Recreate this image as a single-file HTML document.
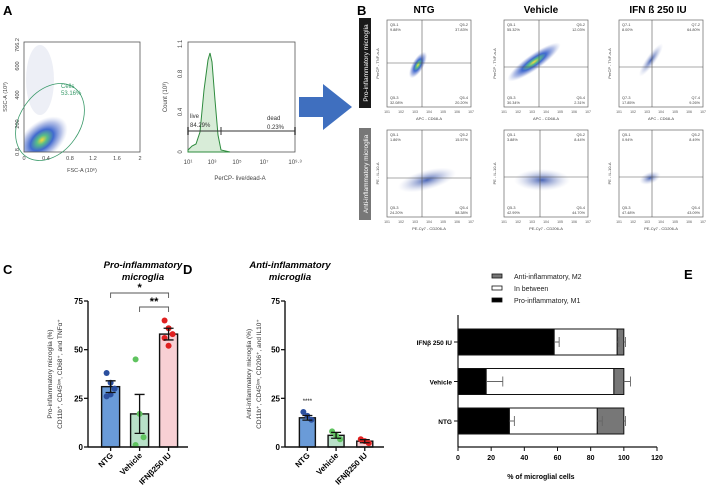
<!DOCTYPE html>
<html><head><meta charset="utf-8"><style>
body{margin:0;background:#fff;font-family:"Liberation Sans",sans-serif}
svg{display:block}
</style></head><body>
<svg width="708" height="495" viewBox="0 0 708 495" xmlns="http://www.w3.org/2000/svg" font-family="Liberation Sans, sans-serif">
<defs>
<radialGradient id="dens" cx="50%" cy="50%" r="50%">
<stop offset="0" stop-color="#f5d21a"/><stop offset="0.2" stop-color="#3bb273"/><stop offset="0.45" stop-color="#1f4fc7"/><stop offset="0.75" stop-color="#5570c8" stop-opacity="0.5"/><stop offset="1" stop-color="#9aa8d8" stop-opacity="0"/>
</radialGradient>
<radialGradient id="dens2" cx="50%" cy="50%" r="50%">
<stop offset="0" stop-color="#2a4aa8"/><stop offset="0.5" stop-color="#6b7fc0" stop-opacity="0.5"/><stop offset="1" stop-color="#b8c0e0" stop-opacity="0"/>
</radialGradient>
<clipPath id="clipA"><rect x="24" y="42" width="116" height="110"/></clipPath>
</defs>

<!-- Panel A -->
<text x="3" y="15" font-size="13" font-weight="bold">A</text>
<g>
<g clip-path="url(#clipA)">
<ellipse cx="40" cy="80" rx="14" ry="35" fill="#c5cbe0" opacity="0.3"/>
<ellipse cx="42" cy="140" rx="30" ry="18" fill="url(#dens)" opacity="0.85" transform="rotate(-40 42 140)"/>
</g>
<rect x="24" y="42" width="116" height="110" fill="none" stroke="#555" stroke-width="0.8"/>
<ellipse cx="50" cy="122" rx="30" ry="42" fill="none" stroke="#3a9a6a" stroke-width="0.8" transform="rotate(35 50 122)"/>
<text x="61" y="88" font-size="6" fill="#3a9a6a">Cells</text>
<text x="61" y="95" font-size="6" fill="#3a9a6a">53.16%</text>
<g font-size="5.5" fill="#444" text-anchor="middle">
<text x="24" y="160">0</text><text x="46" y="160">0.4</text><text x="70" y="160">0.8</text><text x="93" y="160">1.2</text><text x="117" y="160">1.6</text><text x="140" y="160">2</text>
<text x="82" y="172">FSC-A (10⁶)</text>
</g>
<g font-size="5.5" fill="#444" text-anchor="middle">
<text transform="translate(19,152) rotate(-90)">0.8</text>
<text transform="translate(19,124) rotate(-90)">200</text>
<text transform="translate(19,95) rotate(-90)">400</text>
<text transform="translate(19,66) rotate(-90)">600</text>
<text transform="translate(19,45) rotate(-90)">766.2</text>
<text transform="translate(7,97) rotate(-90)">SSC-A (10³)</text>
</g>
</g>

<g>
<rect x="188" y="42" width="107" height="110" fill="none" stroke="#555" stroke-width="0.8"/>
<path d="M188,150 L192,146 L196,144 L200,132 L204,90 L208,60 L210,53 L212,62 L215,100 L218,135 L221,150 L230,152 L188,152Z" fill="#d8ecd8" stroke="#2e8b3e" stroke-width="1"/>
<line x1="188" y1="131" x2="295" y2="131" stroke="#333" stroke-width="1"/>
<line x1="188" y1="127" x2="188" y2="135" stroke="#333" stroke-width="1.4"/>
<line x1="221" y1="127" x2="221" y2="135" stroke="#333" stroke-width="1"/>
<line x1="295" y1="127" x2="295" y2="135" stroke="#333" stroke-width="1.4"/>
<text x="190" y="118" font-size="6" fill="#333">live</text>
<text x="190" y="127" font-size="6" fill="#333">84.29%</text>
<text x="267" y="120" font-size="6" fill="#333">dead</text>
<text x="267" y="129" font-size="6" fill="#333">0.23%</text>
<g font-size="6" fill="#444" text-anchor="middle">
<text x="188" y="164">10¹</text><text x="212" y="164">10³</text><text x="237" y="164">10⁵</text><text x="264" y="164">10⁷</text><text x="295" y="164">10⁹·³</text>
<text x="240" y="180">PerCP- live/dead-A</text>
</g>
<g font-size="6" fill="#444" text-anchor="middle">
<text transform="translate(182,152) rotate(-90)">0</text>
<text transform="translate(182,112) rotate(-90)">0.4</text>
<text transform="translate(182,74) rotate(-90)">0.8</text>
<text transform="translate(182,44) rotate(-90)">1.1</text>
<text transform="translate(167,97) rotate(-90)">Count (10³)</text>
</g>
</g>
<path d="M299,97 L323,97 L323,84 L352,107 L323,130 L323,117 L299,117Z" fill="#3f6fbf"/>

<!-- Panel B -->
<text x="357" y="15" font-size="13" font-weight="bold">B</text>
<g font-size="10" font-weight="bold" text-anchor="middle">
<text x="424" y="13">NTG</text><text x="541" y="13">Vehicle</text><text x="658" y="13">IFN ß 250 IU</text>
</g>
<rect x="359" y="18" width="12" height="90" fill="#1a1a1a"/>
<text transform="translate(368,63) rotate(-90)" font-size="6.5" fill="#fff" text-anchor="middle">Pro-inflammatory microglia</text>
<rect x="359" y="128" width="12" height="92" fill="#777"/>
<text transform="translate(368,174) rotate(-90)" font-size="6.5" fill="#fff" text-anchor="middle">Anti-inflammatory microglia</text>

<g id="flowplots"></g>

<!-- Panel C -->
<text x="3" y="274" font-size="13" font-weight="bold">C</text>
<text x="143" y="268" font-size="9.5" font-weight="bold" font-style="italic" text-anchor="middle">Pro-inflammatory</text>
<text x="143" y="280" font-size="9.5" font-weight="bold" font-style="italic" text-anchor="middle">microglia</text>
<g id="chartC"></g>

<!-- Panel D -->
<text x="183" y="274" font-size="13" font-weight="bold">D</text>
<text x="290" y="268" font-size="9.5" font-weight="bold" font-style="italic" text-anchor="middle">Anti-inflammatory</text>
<text x="290" y="280" font-size="9.5" font-weight="bold" font-style="italic" text-anchor="middle">microglia</text>
<g id="chartD"></g>

<!-- Panel E -->
<text x="684" y="279" font-size="13" font-weight="bold">E</text>
<g id="chartE"></g>
</svg>

<script>
const NS='http://www.w3.org/2000/svg';
function mk(parent,tag,attrs,text){const e=document.createElementNS(NS,tag);for(const k in attrs)e.setAttribute(k,attrs[k]);if(text!==undefined)e.textContent=text;parent.appendChild(e);return e;}

// ---------- Flow plots (B) ----------
const flowQuadLabels=[
 ['Q5-1','Q5-2','Q5-3','Q5-4'],['Q5-1','Q5-2','Q5-3','Q5-4'],['Q7-1','Q7-2','Q7-3','Q7-4'],
 ['Q5-1','Q5-2','Q5-3','Q5-4'],['Q5-1','Q5-2','Q5-3','Q5-4'],['Q5-1','Q5-2','Q5-3','Q5-4']];
const flowQuadValues=[
 ['9.88%','37.83%','32.08%','20.20%'],['55.32%','12.03%','30.34%','2.31%'],['8.00%','64.80%','17.85%','9.26%'],
 ['1.86%','15.57%','24.20%','58.38%'],['3.88%','8.44%','42.99%','44.70%'],['0.94%','8.49%','47.48%','43.09%']];
const flowXTitles=['APC - CD68-A','APC - CD68-A','APC - CD68-A','PE-Cy7 - CD206-A','PE-Cy7 - CD206-A','PE-Cy7 - CD206-A'];
const flowYTitles=['PerCP - TNF-a-A','PerCP - TNF-a-A','PerCP - TNF-a-A','PE - IL-10-A','PE - IL-10-A','PE - IL-10-A'];
const boxes=[[387,20],[504,20],[619,20],[387,130],[504,130],[619,130]];
const cross=[[35,43],[35,47],[33,47],[35,48],[36,47],[33,47]];
const blobs=[
 {cx:31,cy:45,rx:6,ry:15,rot:30,g:'dens'},{cx:30,cy:42,rx:8,ry:32,rot:55,g:'dens'},{cx:32,cy:40,rx:5,ry:20,rot:35,g:'dens2'},
 {cx:40,cy:50,rx:10,ry:30,rot:75,g:'dens2'},{cx:38,cy:50,rx:11,ry:28,rot:90,g:'dens2'},{cx:31,cy:48,rx:6,ry:11,rot:70,g:'dens2'}];
const fp=document.getElementById('flowplots');
boxes.forEach((b,i)=>{
 const g=mk(fp,'g',{transform:`translate(${b[0]},${b[1]})`});
 
 
 const w=84,h=87;
 const bl=blobs[i];
 mk(g,'ellipse',{cx:bl.cx,cy:bl.cy,rx:bl.rx,ry:bl.ry,fill:`url(#${bl.g})`,opacity:0.85,transform:`rotate(${bl.rot} ${bl.cx} ${bl.cy})`});
 mk(g,'rect',{x:0,y:0,width:w,height:h,fill:'none',stroke:'#666','stroke-width':0.7});
 mk(g,'line',{x1:cross[i][0],y1:0,x2:cross[i][0],y2:h,stroke:'#555','stroke-width':0.6});
 mk(g,'line',{x1:0,y1:cross[i][1],x2:w,y2:cross[i][1],stroke:'#555','stroke-width':0.6});
 const q=flowQuadLabels[i],v=flowQuadValues[i];
 const fs={'font-size':3.8,fill:'#444'};
 mk(g,'text',Object.assign({x:3,y:6},fs),q[0]);mk(g,'text',Object.assign({x:3,y:11},fs),v[0]);
 mk(g,'text',Object.assign({x:w-3,y:6,'text-anchor':'end'},fs),q[1]);mk(g,'text',Object.assign({x:w-3,y:11,'text-anchor':'end'},fs),v[1]);
 mk(g,'text',Object.assign({x:3,y:h-8},fs),q[2]);mk(g,'text',Object.assign({x:3,y:h-3},fs),v[2]);
 mk(g,'text',Object.assign({x:w-3,y:h-8,'text-anchor':'end'},fs),q[3]);mk(g,'text',Object.assign({x:w-3,y:h-3,'text-anchor':'end'},fs),v[3]);
 for(let k=0;k<7;k++){mk(g,'text',{x:k*w/6,y:h+6,'font-size':3.5,fill:'#555','text-anchor':'middle'},'10'+(k+1));}
 mk(g,'text',{x:w/2,y:h+13,'font-size':4,fill:'#444','text-anchor':'middle'},flowXTitles[i]);
 mk(g,'text',{transform:`translate(-8,${h/2}) rotate(-90)`,'font-size':4,fill:'#444','text-anchor':'middle'},flowYTitles[i]);
});

// ---------- Chart C ----------
const catC=['NTG','Vehicle','IFNβ250 IU'];
const meanC=[31,17,58];
const semC=[3,10,3];
const ptsC=[[38,33,30,26,27],[45,17,5,1],[65,61,58,56,52]];
const colC=['#6a9bd8','#b8e0c8','#f8d0d4'];
const dotC=['#2b4f9e','#5fc35f','#e02020'];
const ticksC=[0,25,50,75];

function barChart(host,x0,x1,cats,means,sems,pts,cols,dots,ticks,bw){
 const y0=447,y75=301;
 const ys=v=>y0-(v/75)*(y0-y75);
 const step=(x1-x0)/(cats.length+0.45);
 const xc=i=>x0+step*(0.78+i);
 cats.forEach((c,i)=>{
  const b=mk(host,'rect',{x:xc(i)-bw/2,y:ys(means[i]),width:bw,height:y0-ys(means[i]),fill:cols[i],stroke:'#111','stroke-width':1.4});
  
  
  pts[i].forEach((p,j)=>{
   const d=mk(host,'circle',{cx:xc(i)+((j%3)-1)*4,cy:ys(p),r:3,fill:dots[i]});
   
   
  });
  const e=mk(host,'path',{d:`M${xc(i)},${ys(means[i]-sems[i])}V${ys(means[i]+sems[i])}M${xc(i)-5},${ys(means[i]+sems[i])}H${xc(i)+5}M${xc(i)-5},${ys(means[i]-sems[i])}H${xc(i)+5}`,stroke:'#111','stroke-width':1.3,fill:'none'});
  
  
  mk(host,'line',{x1:xc(i),y1:y0,x2:xc(i),y2:y0+4,stroke:'#111','stroke-width':1.3});
  const t=mk(host,'text',{transform:`translate(${xc(i)+3},${y0+9}) rotate(-45)`,'font-size':8,'font-weight':'bold','text-anchor':'end'},c);
  
  
 });
 mk(host,'line',{x1:x0,y1:y0,x2:x1,y2:y0,stroke:'#111','stroke-width':1.4});
 mk(host,'line',{x1:x0,y1:y0,x2:x0,y2:y75,stroke:'#111','stroke-width':1.4});
 ticks.forEach(t=>{
  mk(host,'line',{x1:x0-4,y1:ys(t),x2:x0,y2:ys(t),stroke:'#111','stroke-width':1.3});
  const l=mk(host,'text',{x:x0-5,y:ys(t)+3,'font-size':8,'font-weight':'bold','text-anchor':'end'},String(t));
  
  
 });
 return {xc,ys};
}
const C=barChart(document.getElementById('chartC'),88,188,catC,meanC,semC,ptsC,colC,dotC,ticksC,18);
const hc=document.getElementById('chartC');
mk(hc,'text',{transform:'translate(52,374) rotate(-90)','font-size':6.5,fill:'#333','text-anchor':'middle'},'Pro-inflammatory microglia (%)');
mk(hc,'text',{transform:'translate(62,374) rotate(-90)','font-size':6.5,fill:'#333','text-anchor':'middle'},'CD11b⁺, CD45ˡᵒʷ, CD68⁺, and TNFα⁺');
mk(hc,'path',{d:`M${C.xc(0)},298V293H${C.xc(2)}V298`,stroke:'#555',fill:'none','stroke-width':0.9});
mk(hc,'path',{d:`M${C.xc(1)},312V307H${C.xc(2)}V312`,stroke:'#555',fill:'none','stroke-width':0.9});
mk(hc,'text',{x:(C.xc(0)+C.xc(2))/2,y:291,'font-size':11,'font-weight':'bold','text-anchor':'middle'},'*');
mk(hc,'text',{x:(C.xc(1)+C.xc(2))/2,y:305,'font-size':11,'font-weight':'bold','text-anchor':'middle'},'**');

// ---------- Chart D ----------
const catD=['NTG','Vehicle','IFNβ250 IU'];
const meanD=[15,6,3];
const semD=[1.2,1.5,0.8];
const ptsD=[[18,16,14],[8,6,4],[4,3,2]];
const colD=['#6a9bd8','#b8e0c8','#f8d0d4'];
const dotD=['#2b4f9e','#5fc35f','#e02020'];
const ticksD=[0,25,50,75];
const D=barChart(document.getElementById('chartD'),285,384,catD,meanD,semD,ptsD,colD,dotD,ticksD,16);
const hd=document.getElementById('chartD');
mk(hd,'text',{transform:'translate(251,374) rotate(-90)','font-size':6.5,fill:'#333','text-anchor':'middle'},'Anti-inflammatory microglia (%)');
mk(hd,'text',{transform:'translate(261,374) rotate(-90)','font-size':6.5,fill:'#333','text-anchor':'middle'},'CD11b⁺, CD45ˡᵒʷ, CD206⁺, and IL10⁺');
mk(hd,'text',{x:D.xc(0),y:403,'font-size':6,'text-anchor':'middle'},'****');

// ---------- Chart E ----------
const catE=['IFNβ 250 IU','Vehicle','NTG'];
const m1E=[58,17,31];
const betweenE=[38,77,53];
const m2E=[4,6,16];
const errM1=[3,10,3];
const errBetween=[1,0,3];
const errM2=[1,4,1];
const ticksE=[0,20,40,60,80,100,120];
const legE=['Anti-inflammatory, M2','In between','Pro-inflammatory, M1'];
const legCol=['#777','#fff','#000'];
const he=document.getElementById('chartE');
const ex0=458,ex1=657,xs=v=>ex0+(v/120)*(ex1-ex0);
const ey=i=>342+i*39.5, bh=26;
catE.forEach((c,i)=>{
 const y=ey(i)-bh/2;
 const a=mk(he,'rect',{x:xs(0),y,width:xs(m1E[i])-xs(0),height:bh,fill:'#000',stroke:'#111','stroke-width':1});
 
 
 const b=mk(he,'rect',{x:xs(m1E[i]),y,width:xs(m1E[i]+betweenE[i])-xs(m1E[i]),height:bh,fill:'#fff',stroke:'#111','stroke-width':1});
 
 
 const s=m1E[i]+betweenE[i];
 const d=mk(he,'rect',{x:xs(s),y,width:xs(s+m2E[i])-xs(s),height:bh,fill:'#777',stroke:'#111','stroke-width':1});
 
 
 [[m1E[i],errM1[i]],[s,errBetween[i]],[s+m2E[i],errM2[i]]].forEach(([v,e])=>{
  if(!e)return;
  mk(he,'path',{d:`M${xs(v)},${ey(i)}H${xs(v+e)}M${xs(v+e)},${ey(i)-5}V${ey(i)+5}`,stroke:'#666','stroke-width':0.9,fill:'none'});
 });
 mk(he,'line',{x1:ex0-4,y1:ey(i),x2:ex0,y2:ey(i),stroke:'#111','stroke-width':1});
 const t=mk(he,'text',{x:ex0-6,y:ey(i)+3,'font-size':6.5,'font-weight':'bold','text-anchor':'end'},c);
 
 
});
mk(he,'line',{x1:ex0,y1:315,x2:ex0,y2:447,stroke:'#111','stroke-width':1.2});
mk(he,'line',{x1:ex0,y1:447,x2:ex1,y2:447,stroke:'#111','stroke-width':1.2});
ticksE.forEach(t=>{
 mk(he,'line',{x1:xs(t),y1:447,x2:xs(t),y2:451,stroke:'#111','stroke-width':1});
 const l=mk(he,'text',{x:xs(t),y:460,'font-size':7,'font-weight':'bold','text-anchor':'middle'},String(t));
 
 
});
const xt=mk(he,'text',{x:xs(50),y:479,'font-size':7,'font-weight':'bold','text-anchor':'middle'},'% of microglial cells');


legE.forEach((l,i)=>{
 const y=278+i*12;
 mk(he,'rect',{x:492,y:y-4,width:10,height:4,fill:legCol[i],stroke:'#111','stroke-width':0.8});
 const t=mk(he,'text',{x:514,y:y+1,'font-size':7,fill:'#222'},l);
 
 
});
</script>
</body></html>
